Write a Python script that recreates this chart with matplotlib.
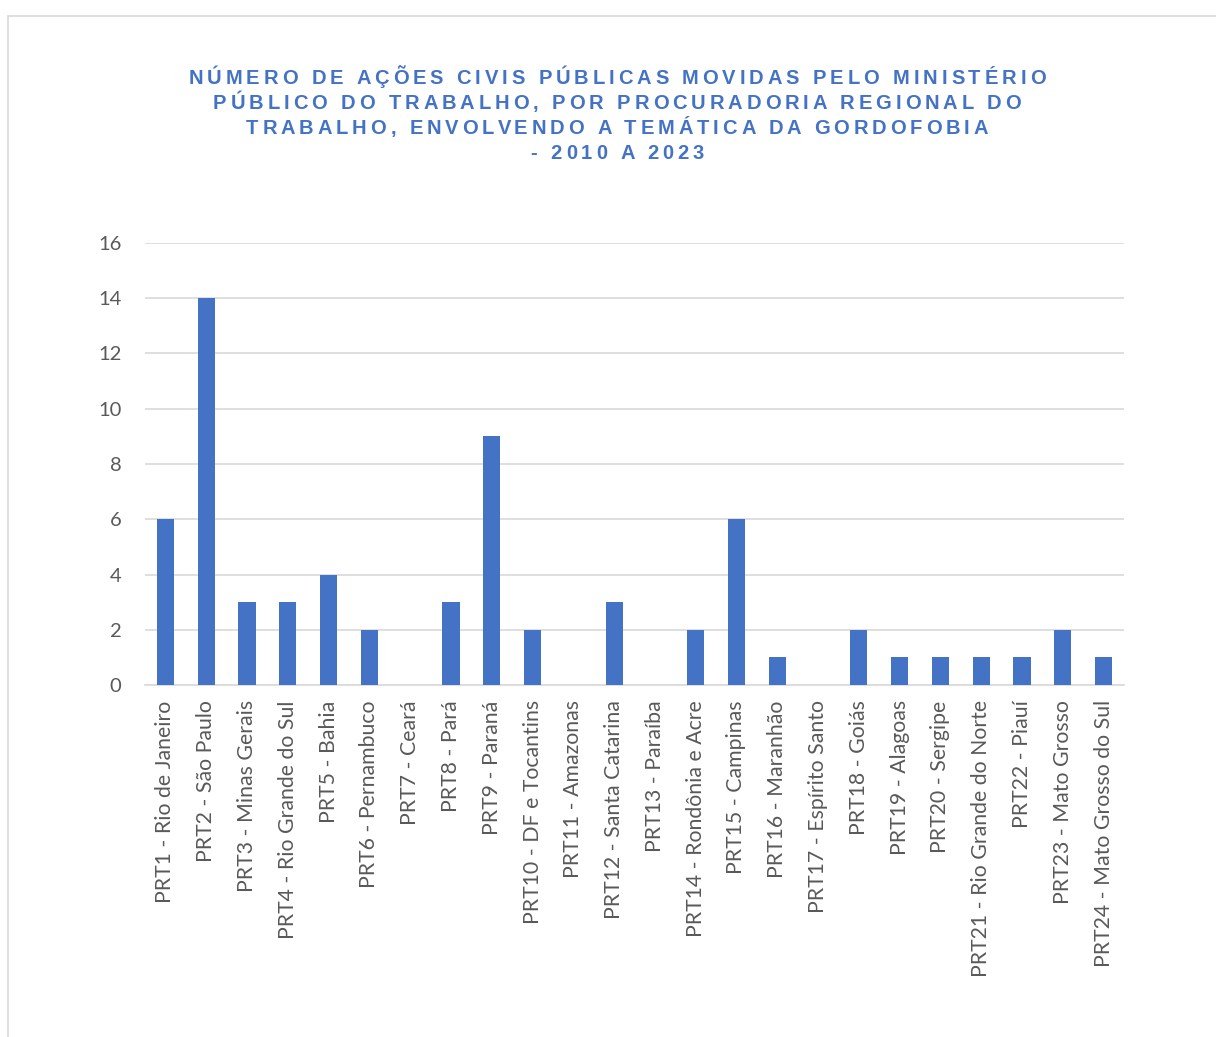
import matplotlib
matplotlib.use("Agg")
import matplotlib.pyplot as plt
from matplotlib.patches import Rectangle

categories = [
    "PRT1 - Rio de Janeiro", "PRT2 - São Paulo", "PRT3 - Minas Gerais",
    "PRT4 - Rio Grande do Sul", "PRT5 - Bahia", "PRT6 - Pernambuco",
    "PRT7 - Ceará", "PRT8 - Pará", "PRT9 - Paraná", "PRT10 - DF e Tocantins",
    "PRT11 - Amazonas", "PRT12 - Santa Catarina", "PRT13 - Paraíba",
    "PRT14 - Rondônia e Acre", "PRT15 - Campinas", "PRT16 - Maranhão",
    "PRT17 - Espírito Santo", "PRT18 - Goiás", "PRT19 - Alagoas",
    "PRT20 - Sergipe", "PRT21 - Rio Grande do Norte", "PRT22 - Piauí",
    "PRT23 - Mato Grosso", "PRT24 - Mato Grosso do Sul",
]
values = [6, 14, 3, 3, 4, 2, 0, 3, 9, 2, 0, 3, 0, 2, 6, 1, 0, 2, 1, 1, 1, 1, 2, 1]
yticks = [0, 2, 4, 6, 8, 10, 12, 14, 16]
title_lines = [
    "NÚMERO DE AÇÕES CIVIS PÚBLICAS MOVIDAS PELO MINISTÉRIO",
    "PÚBLICO DO TRABALHO, POR PROCURADORIA REGIONAL DO",
    "TRABALHO, ENVOLVENDO A TEMÁTICA DA GORDOFOBIA",
    "- 2010 A 2023",
]

W, H = 1216, 1037
fig = plt.figure(figsize=(W / 100, H / 100), dpi=100)
fig.patch.set_facecolor("white")

# chart border
fig.patches.append(Rectangle((8 / W, -0.1), 1.2, 1 - 16 / H + 0.1,
                             transform=fig.transFigure, fill=False,
                             edgecolor="#D9D9D9", linewidth=1.2))

ax = fig.add_axes([145 / W, 1 - 685 / H, (1124 - 145) / W, (685 - 243) / H])
x = list(range(len(categories)))
ax.bar(x, values, width=0.42, color="#4472C4", zorder=3)
ax.set_xlim(-0.5, len(categories) - 0.5)
ax.set_ylim(0, 16)
ax.set_yticks(yticks)
ax.set_yticklabels([str(v) for v in yticks], fontsize=14.5, color="#595959",
                   family="Lato")
ax.set_xticks(x)
ax.set_xticklabels(categories, rotation=90, fontsize=15.3, color="#595959",
                   family="Lato")
ax.tick_params(axis="both", length=0)
ax.tick_params(axis="y", pad=17)
ax.tick_params(axis="x", pad=11)
ax.grid(axis="y", color="#D9D9D9", linewidth=1.2, zorder=0)
for s in ["top", "right", "left"]:
    ax.spines[s].set_visible(False)
ax.spines["bottom"].set_color("#D9D9D9")
ax.spines["bottom"].set_linewidth(1.2)

# title with letter spacing (drawn character by character)
renderer = fig.canvas.get_renderer()
tprops = dict(fontsize=14.5, fontweight="bold", color="#4472C4",
              family="Liberation Sans")
spacing = 3.9  # px extra per character
baselines = [84, 109, 134, 159]
cx = 617


def text_width(s):
    t = fig.text(0, 0, s + "|", **tprops)
    w = t.get_window_extent(renderer).width
    t.remove()
    return w


bar_w = text_width("")
for line, yy in zip(title_lines, baselines):
    total = text_width(line) - bar_w + spacing * (len(line) - 1)
    x0 = cx - total / 2
    for i, ch in enumerate(line):
        if ch == " ":
            continue
        off = text_width(line[:i]) - bar_w + spacing * i
        fig.text((x0 + off) / W, 1 - yy / H, ch, ha="left", va="baseline",
                 **tprops)

fig.savefig("out.png", dpi=100)
